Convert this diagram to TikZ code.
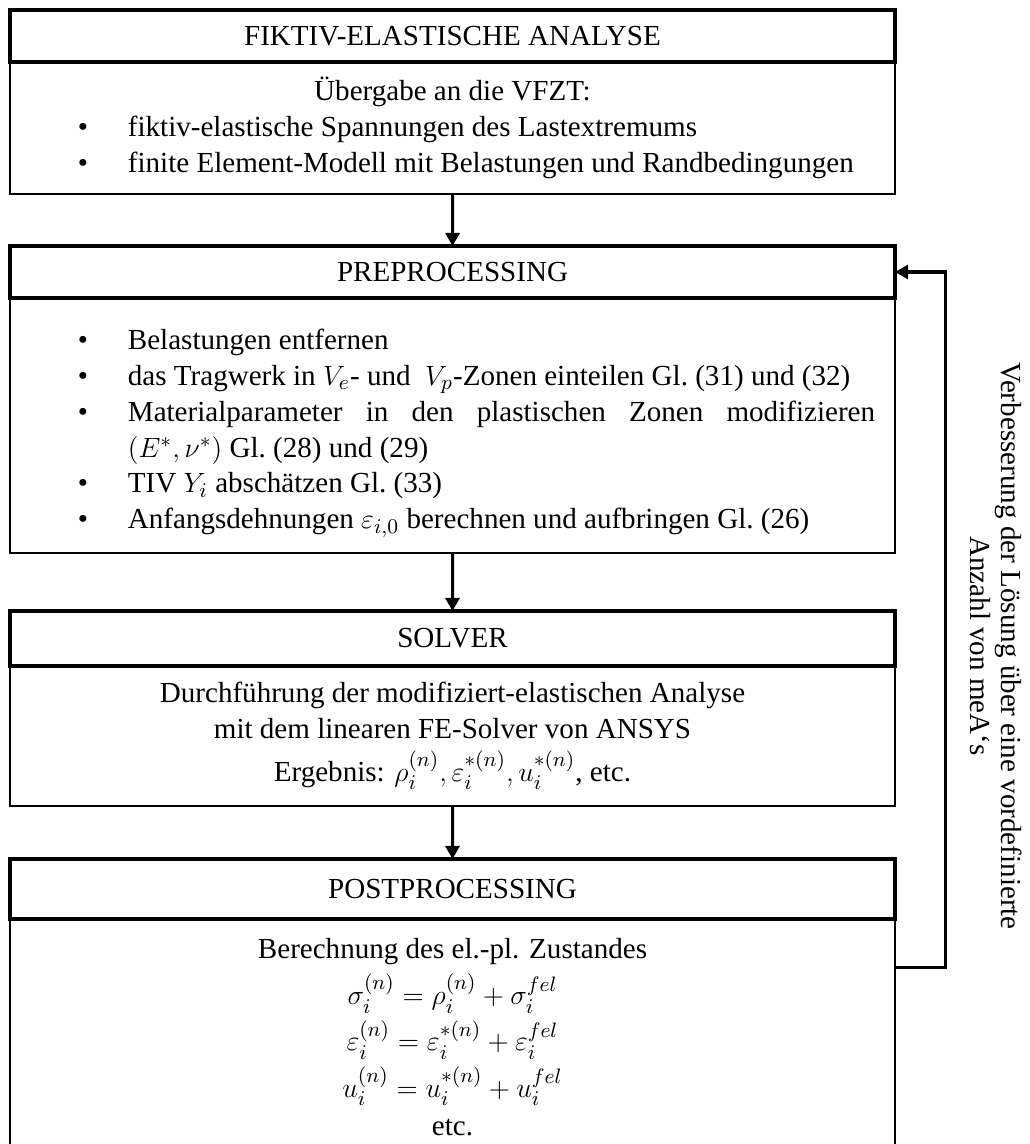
\documentclass[tikz,border=0pt]{standalone}
\usepackage{amsmath}
\usepackage{fontspec}
\setmainfont{Liberation Serif}
\usepackage{tikz}
\usetikzlibrary{calc,arrows.meta}

\hyphenpenalty=10000
\exhyphenpenalty=10000

\newenvironment{fzlist}{%
    \begin{list}{\textbullet}{%
    \setlength{\leftmargin}{42.1pt}%
    \setlength{\labelwidth}{25pt}%
    \setlength{\labelsep}{17.1pt}%
    \setlength{\itemsep}{0pt}%
    \setlength{\parsep}{0pt}%
    \setlength{\topsep}{0pt}%
    \setlength{\partopsep}{0pt}}}%
    {\end{list}}

\begin{document}
\begin{tikzpicture}[x=0.43pt,y=-0.43pt,inner sep=0pt,outer sep=0pt,
    every node/.style={font=\fontsize{12.5pt}{15.4pt}\selectfont},
    head/.style={draw,line width=1.4pt,minimum width=380.55pt,anchor=north west},
    body/.style={draw,line width=1.1pt,minimum width=380.55pt,text width=363.35pt,
        inner xsep=8.6pt,anchor=north west},
    flow/.style={line width=1.3pt,-{Triangle[length=5.6pt,width=6pt]}}]
    \useasboundingbox (0,0) rectangle (1029,1144);

    % fiktiv-elastische analyse
    \node[head,minimum height=22.36pt] (fea_head) at (10,10) {FIKTIV-ELASTISCHE ANALYSE};
    \node[body,minimum height=56.76pt,align=justify] (fea_body) at (fea_head.south west)
    {
    {\centering Übergabe an die VFZT:\par}
    \begin{fzlist}
    \item fiktiv-elastische Spannungen des Lastextremums
    \item finite Element-Modell mit Belastungen und Randbedingungen
    \end{fzlist}
    };

    % preprocessing
    \node[head,minimum height=22.36pt] (pre_head) at ($(fea_body.south west)+(0,52)$) {PREPROCESSING};
    \node[body,minimum height=109.65pt,align=justify] (pre_body) at (pre_head.south west)
    {
    \begin{fzlist}
    \item Belastungen entfernen
    \item das Tragwerk in $V_e$- und \ $V_p$-Zonen einteilen Gl.~(31) und (32)
    \item Materialparameter in den plastischen Zonen modifizieren\linebreak
    $(E^*,\nu^*)$ Gl.~(28) und (29)
    \item TIV $Y_i$ abschätzen Gl.~(33)
    \item Anfangsdehnungen $\varepsilon_{i,0}$ berechnen und aufbringen Gl.~(26)
    \end{fzlist}
    };

    % solver
    \node[head,minimum height=23.65pt] (sol_head) at ($(pre_body.south west)+(0,58)$) {SOLVER};
    \node[body,minimum height=60.2pt,align=flush center] (sol_body) at (sol_head.south west)
    {Durchführung der modifiziert-elastischen Analyse\\
    mit dem linearen FE-Solver von ANSYS\\[3pt]
    Ergebnis: $\rho_i^{(n)},\varepsilon_i^{*(n)},u_i^{*(n)}$, etc.};

    % postprocessing
    \node[head,minimum height=25.8pt] (post_head) at ($(sol_body.south west)+(0,53)$) {POSTPROCESSING};
    \node[body,minimum height=101.5pt,align=flush center] (post_body) at (post_head.south west)
    {Berechnung des el.-pl. Zustandes\\[3pt]
    $\sigma_i^{(n)}=\rho_i^{(n)}+\sigma_i^{fel}$\\[2pt]
    $\varepsilon_i^{(n)}=\varepsilon_i^{*(n)}+\varepsilon_i^{fel}$\\[2pt]
    $u_i^{(n)}=u_i^{*(n)}+u_i^{fel}$\\[1pt]
    etc.};

    % arrows
    \draw[flow] (fea_body.south) -- (pre_head.north);
    \draw[flow] (pre_body.south) -- (sol_head.north);
    \draw[flow] (sol_body.south) -- (post_head.north);

    % loop back
    \coordinate (fb_out) at ($(post_body.north east)+(0,48)$);
    \draw[flow] (fb_out) -- ++(50,0) |- (pre_head.east);
    \node[rotate=-90,align=center,font=\fontsize{12.5pt}{13.3pt}\selectfont] (fb_note) at (996,646)
    {Verbesserung der Lösung über eine vordefinierte\\ Anzahl von meA‘s};

\end{tikzpicture}
\end{document}
